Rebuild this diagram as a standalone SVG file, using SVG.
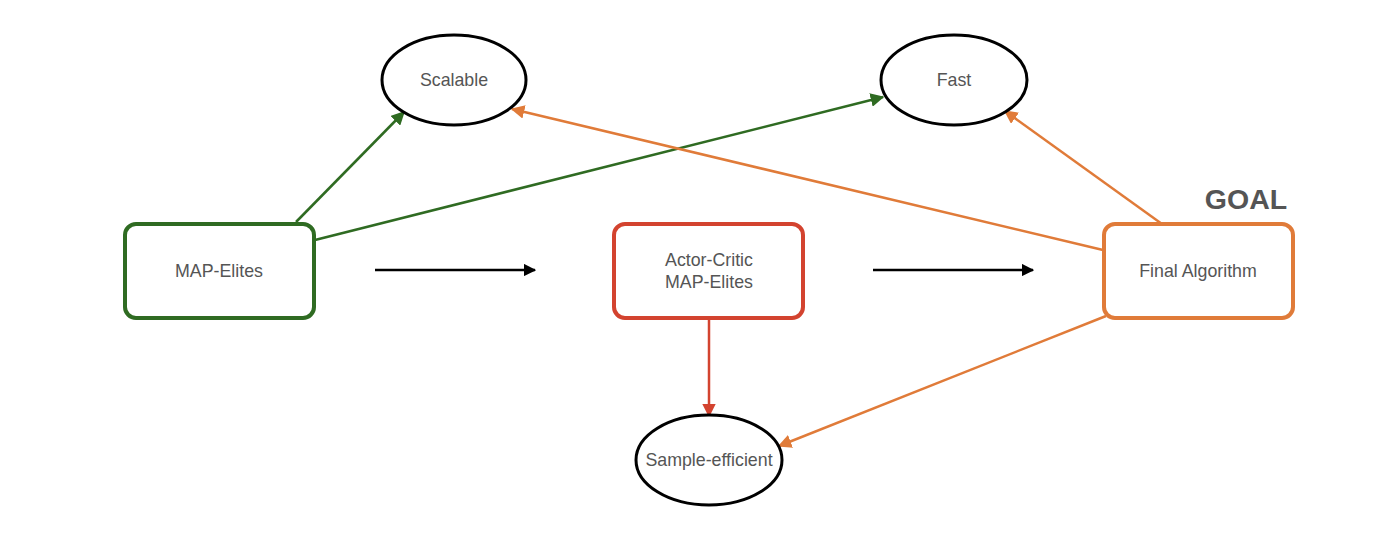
<svg xmlns="http://www.w3.org/2000/svg" width="1400" height="559" viewBox="0 0 1400 559">
<style>
.lbl{font-family:"Helvetica Neue","Liberation Sans",Arial,sans-serif;font-size:17.8px;fill:#555;text-anchor:middle;dominant-baseline:central}
.ell{fill:#fff;stroke:#000;stroke-width:3}
.box{fill:#fff;stroke-width:4}
.c{fill:none;stroke-width:2.5}
</style>
<defs>
<marker id="aG" viewBox="0 0 10 10" refX="9" refY="5" markerWidth="5.5" markerHeight="5.5" orient="auto" markerUnits="strokeWidth"><path d="M0,0L10,5L0,10z" fill="#2f6b22"/></marker>
<marker id="aO" viewBox="0 0 10 10" refX="9" refY="5" markerWidth="5.5" markerHeight="5.5" orient="auto" markerUnits="strokeWidth"><path d="M0,0L10,5L0,10z" fill="#e07b39"/></marker>
<marker id="aR" viewBox="0 0 10 10" refX="9" refY="5" markerWidth="5.5" markerHeight="5.5" orient="auto" markerUnits="strokeWidth"><path d="M0,0L10,5L0,10z" fill="#d3432f"/></marker>
<marker id="aK" viewBox="0 0 10 10" refX="9" refY="5" markerWidth="5" markerHeight="5" orient="auto" markerUnits="strokeWidth"><path d="M0,0L10,5L0,10z" fill="#000"/></marker>
</defs>
<rect width="1400" height="559" fill="#fff"/>
<g id="connectors">
<line class="c" x1="296" y1="222" x2="404" y2="112" stroke="#2f6b22" marker-end="url(#aG)"/>
<line class="c" x1="315" y1="240" x2="883" y2="97" stroke="#2f6b22" marker-end="url(#aG)"/>
<line class="c" x1="375" y1="270" x2="535" y2="270" stroke="#000" stroke-width="3" marker-end="url(#aK)"/>
<line class="c" x1="873" y1="270" x2="1033" y2="270" stroke="#000" stroke-width="3" marker-end="url(#aK)"/>
<line class="c" x1="1103" y1="250" x2="512" y2="109" stroke="#e07b39" marker-end="url(#aO)"/>
<line class="c" x1="1162" y1="224" x2="1005" y2="111" stroke="#e07b39" marker-end="url(#aO)"/>
<line class="c" x1="1106" y1="316" x2="779" y2="446" stroke="#e07b39" marker-end="url(#aO)"/>
<line class="c" x1="709" y1="320" x2="709" y2="416" stroke="#d3432f" marker-end="url(#aR)"/>
</g>
<g id="scalable"><ellipse class="ell" cx="454" cy="80" rx="72" ry="45"/><text class="lbl" x="454" y="80">Scalable</text></g>
<g id="fast"><ellipse class="ell" cx="954" cy="80" rx="73" ry="45"/><text class="lbl" x="954" y="80">Fast</text></g>
<g id="sample"><ellipse class="ell" cx="709" cy="460" rx="73" ry="45"/><text class="lbl" x="709" y="460">Sample-efficient</text></g>
<g id="mapelites"><rect class="box" x="125" y="224" width="189" height="94" rx="11" stroke="#2f6b22"/><text class="lbl" x="219" y="271">MAP-Elites</text></g>
<g id="acme"><rect class="box" x="614" y="224" width="189" height="94" rx="11" stroke="#d3432f"/><text class="lbl" x="709" y="260">Actor-Critic</text><text class="lbl" x="709" y="282">MAP-Elites</text></g>
<g id="final"><rect class="box" x="1104" y="224" width="189" height="94" rx="11" stroke="#e07b39"/><text class="lbl" x="1198" y="271">Final Algorithm</text></g>
<text x="1246" y="209" font-family="'Helvetica Neue','Liberation Sans',Arial,sans-serif" font-size="28.5" font-weight="bold" fill="#555" text-anchor="middle">GOAL</text>
</svg>
